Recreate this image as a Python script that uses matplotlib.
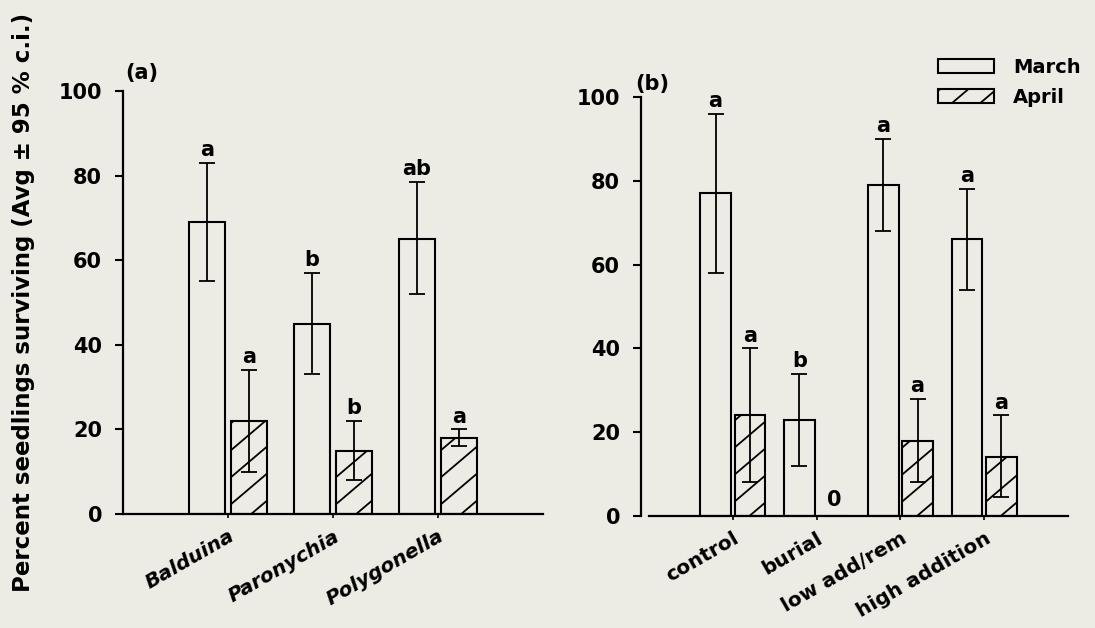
import matplotlib
matplotlib.use('Agg')
import matplotlib.pyplot as plt
import numpy as np
from matplotlib.lines import Line2D
from matplotlib.patches import Patch
from matplotlib.transforms import IdentityTransform

plt.rcParams['font.family'] = ['DejaVu Sans']
plt.rcParams['font.weight'] = 'bold'

# ---------------- data ----------------
species = ['Balduina', 'Paronychia', 'Polygonella']
march_a = [69, 45, 65]
march_a_lo = [55, 33, 52]
march_a_hi = [83, 57, 78.5]
april_a = [22, 15, 18]
april_a_lo = [10, 8, 16]
april_a_hi = [34, 22, 20]
letters_march_a = ['a', 'b', 'ab']
letters_april_a = ['a', 'b', 'a']

treatments = ['control', 'burial', 'low add/rem', 'high addition']
march_b = [77, 23, 79, 66]
march_b_lo = [58, 12, 68, 54]
march_b_hi = [96, 34, 90, 78]
april_b = [24, 0, 18, 14]
april_b_lo = [8, 0, 8, 4.5]
april_b_hi = [40, 0, 28, 24]
letters_march_b = ['a', 'b', 'a', 'a']
letters_april_b = ['a', '0', 'a', 'a']

series_labels = ['March', 'April']
ylabel = 'Percent seedlings surviving (Avg \u00b1 95 % c.i.)'
yticks = [0, 20, 40, 60, 80, 100]

BG = '#ecebe4'
W, H = 1095, 628
fig = plt.figure(figsize=(W / 100, H / 100), dpi=100, facecolor=BG)

ax_a = fig.add_axes([123 / W, 1 - 514 / H, (543 - 123) / W, (514 - 91) / H])
ax_b = fig.add_axes([649 / W, 1 - 516 / H, (1068 - 649) / W, (516 - 97) / H])
ax_b.spines['left'].set_position(('outward', 5.8))

hatched = []


def draw_panel(ax, cats, m, mlo, mhi, a, alo, ahi, lm, la, width, off, italic):
    ax.set_facecolor('none')
    x = np.arange(1, len(cats) + 1)
    bm = ax.bar(x - off, m, width, facecolor='none', edgecolor='black', linewidth=1.5, zorder=2)
    ba = ax.bar(x + off, a, width, facecolor='none', edgecolor='black', linewidth=1.5, zorder=2)
    hatched.extend([p for p, v in zip(ba.patches, a) if v > 0])
    m = np.array(m, float); a = np.array(a, float)
    ax.errorbar(x - off, m, yerr=[m - np.array(mlo), np.array(mhi) - m], fmt='none',
                ecolor='black', elinewidth=1.3, capsize=6, capthick=1.3, zorder=3)
    mask = a > 0
    ax.errorbar((x + off)[mask], a[mask],
                yerr=[(a - np.array(alo))[mask], (np.array(ahi) - a)[mask]], fmt='none',
                ecolor='black', elinewidth=1.3, capsize=6, capthick=1.3, zorder=3)
    for xi, hi, t in zip(x - off, mhi, lm):
        ax.annotate(t, (xi, hi), xytext=(0, 2), textcoords='offset points',
                    ha='center', va='bottom', fontsize=15, fontweight='bold')
    for xi, v, hi, t in zip(x + off, a, ahi, la):
        if v > 0:
            ax.annotate(t, (xi, hi), xytext=(0, 2), textcoords='offset points',
                        ha='center', va='bottom', fontsize=15, fontweight='bold')
        else:
            ax.annotate(t, (xi, 0), xytext=(0, 4), textcoords='offset points',
                        ha='center', va='bottom', fontsize=15, fontweight='bold')
    ax.set_xlim(0, len(cats) + 1)
    ax.set_ylim(0, 100)
    ax.set_yticks(yticks)
    ax.set_yticklabels([str(t) for t in yticks], fontsize=15, fontweight='bold')
    ax.set_xticks(x)
    ax.set_xticklabels(cats, rotation=30, ha='right', rotation_mode='anchor',
                       fontsize=14.5, fontweight='bold',
                       fontstyle='italic' if italic else 'normal')
    for s in ['top', 'right']:
        ax.spines[s].set_visible(False)
    for s in ['left', 'bottom']:
        ax.spines[s].set_linewidth(1.6)
    ax.tick_params(axis='y', direction='out', length=6, width=1.5, pad=9)
    ax.tick_params(axis='x', direction='out', length=3, width=1.2, pad=6)


draw_panel(ax_a, species, march_a, march_a_lo, march_a_hi, april_a, april_a_lo, april_a_hi,
           letters_march_a, letters_april_a, 0.345, 0.2, True)
draw_panel(ax_b, treatments, march_b, march_b_lo, march_b_hi, april_b, april_b_lo, april_b_hi,
           letters_march_b, letters_april_b, 0.365, 0.205, False)

fig.text(125 / W, 1 - 73 / H, '(a)', ha='left', va='center', fontsize=15, fontweight='bold')
fig.text(635 / W, 1 - 84 / H, '(b)', ha='left', va='center', fontsize=15, fontweight='bold')
fig.text(24 / W, 1 - 302 / H, ylabel, rotation=90, ha='center', va='center',
         fontsize=16.5, fontweight='bold')

handles = [Patch(facecolor='none', edgecolor='black', linewidth=1.5),
           Patch(facecolor='none', edgecolor='black', linewidth=1.5)]
leg = ax_b.legend(handles, series_labels, loc='upper left',
                  bbox_to_anchor=(938 / W, 1 - 58 / H), bbox_transform=fig.transFigure,
                  frameon=False, borderpad=0, borderaxespad=0, handlelength=2.9,
                  handleheight=0.75, handletextpad=0.95, labelspacing=0.55,
                  prop={'size': 14, 'weight': 'bold'})

fig.canvas.draw()
renderer = fig.canvas.get_renderer()


def add_hatch(patch, spacing=27.0, slope=0.85, lw=1.3):
    bb = patch.get_window_extent(renderer)
    x0, y0, x1, y1 = bb.x0, bb.y0, bb.x1, bb.y1
    w = x1 - x0
    h = y1 - y0
    cs = np.arange(-slope * w + spacing * 0.5, h, spacing)
    for c in cs:
        ln = Line2D([x0, x1], [y0 + c, y0 + c + slope * w], transform=IdentityTransform(),
                    color='black', linewidth=lw, zorder=4)
        ln.set_clip_path(patch)
        fig.add_artist(ln)


for p in hatched:
    add_hatch(p)
add_hatch(leg.get_patches()[1], spacing=24.0)

fig.savefig('out.png', dpi=100, facecolor=BG)
